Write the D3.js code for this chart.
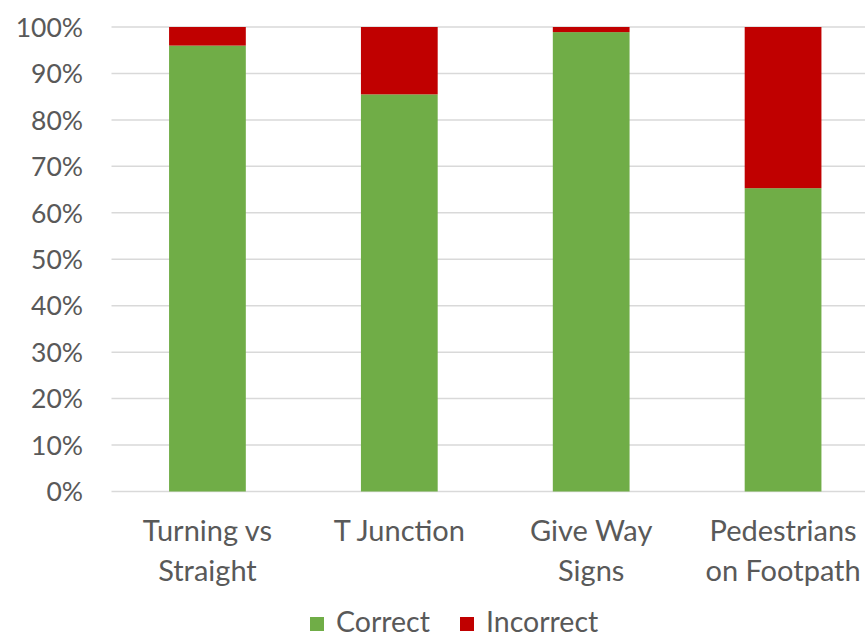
<!DOCTYPE html>
<html><head><meta charset="utf-8">
<script src="https://cdn.jsdelivr.net/npm/d3@7"></script>
<style>body{margin:0;background:#fff}svg{display:block}text{font-family:Lato,"Open Sans",sans-serif;fill:#595959}</style>
</head><body><svg id="c" width="865" height="637"></svg>
<script>
const categories = [["Turning vs","Straight"],["T Junction"],["Give Way","Signs"],["Pedestrians","on Footpath"]];
const correct = [0.96, 0.855, 0.989, 0.653];
const incorrect = [0.04, 0.145, 0.011, 0.347];
const seriesNames = ["Correct","Incorrect"];
const colors = ["#70AD47","#C00000"];
const yTicks = [0,0.1,0.2,0.3,0.4,0.5,0.6,0.7,0.8,0.9,1];

const svg = d3.select("#c");
const x = d3.scaleBand().domain(d3.range(categories.length)).range([111.5, 879]).paddingInner(0.6).paddingOuter(0.3);
const y = d3.scaleLinear().domain([0,1]).range([491.5, 27]);

svg.append("g").selectAll("line").data(yTicks).join("line")
  .attr("x1",111.5).attr("x2",865).attr("y1",d=>y(d)).attr("y2",d=>y(d))
  .attr("stroke","#d9d9d9").attr("stroke-width",1.5);

const stack = d3.stack().keys([0,1]).value((d,k)=>k===0?correct[d]:incorrect[d])(d3.range(categories.length));
svg.append("g").selectAll("g").data(stack).join("g").attr("fill",(d,i)=>colors[i])
  .selectAll("rect").data(d=>d).join("rect")
  .attr("x",d=>x(d.data)).attr("width",x.bandwidth())
  .attr("y",d=>y(d[1])).attr("height",d=>y(d[0])-y(d[1]));

const yAxis = svg.append("g").attr("transform","translate(83,0)")
  .call(d3.axisLeft(y).tickValues(yTicks).tickFormat(d3.format(".0%")).tickSize(0));
yAxis.select(".domain").remove();
yAxis.selectAll("text").attr("font-size",26.5).attr("font-family","Lato").attr("fill","#595959").attr("dy","0.35em").attr("x",0);

const xl = svg.append("g").selectAll("text").data(categories).join("text")
  .attr("text-anchor","middle").attr("font-size",29)
  .attr("transform",(d,i)=>`translate(${x(i)+x.bandwidth()/2},0)`);
xl.selectAll("tspan").data(d=>d).join("tspan").attr("x",0).attr("y",(d,j)=>541+j*40).text(d=>d);

const leg = svg.append("g");
const legX = [310, 460];
seriesNames.forEach((s,i)=>{
  leg.append("rect").attr("x",legX[i]).attr("y",617).attr("width",14).attr("height",14).attr("fill",colors[i]);
  leg.append("text").attr("x",legX[i]+26).attr("y",632).attr("font-size",28.5).text(s);
});
</script></body></html>
